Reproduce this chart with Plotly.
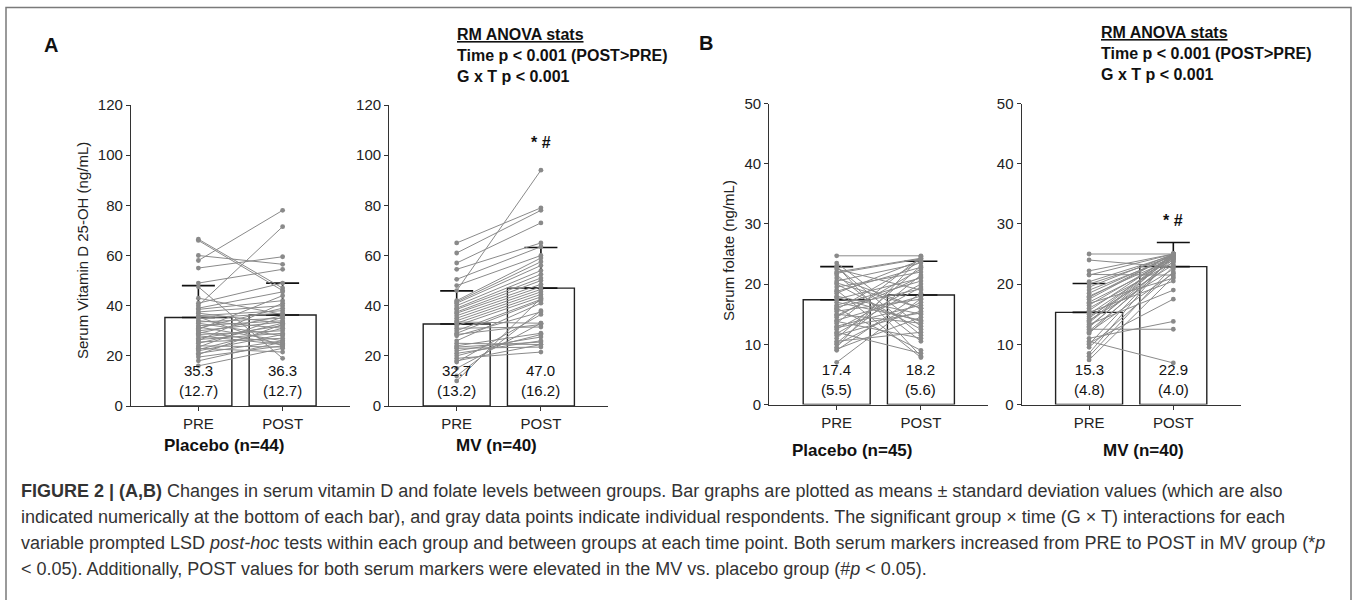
import plotly.graph_objects as go

W, H = 1357, 600

# ---------------- data ----------------
categories = ["PRE", "POST"]

vitd_placebo_means = [35.3, 36.3]
vitd_placebo_sds = [12.7, 12.7]
vitd_mv_means = [32.7, 47.0]
vitd_mv_sds = [13.2, 16.2]

fol_placebo_means = [17.4, 18.2]
fol_placebo_sds = [5.5, 5.6]
fol_mv_means = [15.3, 22.9]
fol_mv_sds = [4.8, 4.0]

vitd_placebo_pre = [66.5, 66, 60, 58, 55, 49, 47.5, 41, 40, 39, 38.5, 37.5, 37, 36, 35.5, 35, 34,
                    33.5, 33, 32, 31.5, 31, 30, 29.5, 29, 28.5, 28, 27, 26.5, 26, 25.5, 25, 24,
                    23.5, 23, 22.5, 22, 21, 20.5, 19.5, 18, 16, 43, 30.5]
vitd_placebo_post = [47, 46, 56.5, 78, 59.5, 54.5, 19, 49, 71.5, 45.5, 42, 40, 33, 38, 24, 37, 31,
                     35, 28, 34, 26, 39, 33.5, 25, 36, 30, 24.5, 32, 29, 41, 27, 33, 23.5,
                     35.5, 21.5, 31, 28.5, 26, 32.5, 24, 25.5, 23, 36.5, 44]

vitd_mv_pre = [65, 61, 57, 54.5, 50.5, 48, 46, 42, 41.5, 41, 40, 39, 38.5, 37.5, 37, 36, 35, 34,
               33.5, 33, 32, 31, 30, 29, 28.5, 28, 26, 25, 24, 23.5, 23, 22, 21, 20, 19, 18,
               17.5, 15, 12, 10]
vitd_mv_post = [79, 78, 73, 65, 63.5, 60, 94, 59, 57.5, 56, 54, 52.5, 51, 50, 48.5, 47.5, 46.5,
                45.5, 33, 44.5, 43.5, 31.5, 42.5, 42, 32.5, 37.5, 41, 24.5, 29, 25.5, 23.5, 27.5,
                26, 28.5, 21.5, 24.5, 36.5, 33, 38, 43]

fol_placebo_pre = [24.7, 23.5, 23, 22.5, 22, 21.5, 21, 20.5, 20, 19.5, 19, 18.5, 18, 17.5, 17,
                   16.5, 16, 15.8, 15.5, 15, 14.5, 14, 13.8, 13.5, 13, 12.5, 12, 11.8, 11.5, 11,
                   10.5, 10.2, 10, 9.5, 9.2, 9, 22.8, 21.8, 20.2, 18.8, 17.8, 16.2, 14.8, 12.8, 7]
fol_placebo_post = [24.7, 13, 8, 19, 24.3, 10.5, 16, 23.5, 12.5, 22, 7.8, 24, 15, 21, 14, 20.5,
                    9, 23.8, 17.5, 13.5, 22.5, 18, 11, 24.5, 16.5, 20, 8.5, 19.5, 15.5, 23, 12,
                    21.5, 17, 24.6, 14.5, 18.5, 11.5, 24.2, 16, 22.8, 13.8, 19.2, 21.2, 15.2, 17.6]

fol_mv_pre = [25, 24, 22.2, 21.6, 21.5, 20.4, 20, 19.5, 19, 18.5, 18, 17.5, 17, 16.8, 16.5, 16,
              15.6, 15.3, 15, 14.6, 14.3, 14, 13.6, 13.3, 13, 12.8, 12.5, 12.2, 12, 11.8, 11,
              10.5, 10.2, 10, 9.5, 8.5, 8, 7.4, 13.8, 17.8]
fol_mv_post = [25, 22.8, 25, 21.5, 25, 24.8, 24.6, 25, 24.4, 24.8, 24.2, 25, 24, 21, 24.6, 23.6,
               24.9, 20.5, 24.3, 23.2, 25, 22.5, 24.7, 19, 24.1, 25, 12.5, 23.8, 21.8, 24.5,
               13.8, 6.9, 17.5, 24.8, 22, 25, 23, 21.2, 25, 25]

group_labels = ["Placebo (n=44)", "MV (n=40)", "Placebo (n=45)", "MV (n=40)"]
ytitles = ["Serum Vitamin D 25-OH (ng/mL)", "Serum folate (ng/mL)"]

panels = [
    (vitd_placebo_means, vitd_placebo_sds, vitd_placebo_pre, vitd_placebo_post),
    (vitd_mv_means, vitd_mv_sds, vitd_mv_pre, vitd_mv_post),
    (fol_placebo_means, fol_placebo_sds, fol_placebo_pre, fol_placebo_post),
    (fol_mv_means, fol_mv_sds, fol_mv_pre, fol_mv_post),
]

# ---------------- layout geometry (pixels) ----------------
x_px = [(131, 350), (389.3, 608.3), (769.3, 988.3), (1021.7, 1240.7)]
y_px = [(105, 406), (105, 406), (103.5, 404.5), (103.5, 404.5)]
y_ranges = [[0, 120], [0, 120], [0, 50], [0, 50]]
y_dticks = [20, 20, 10, 10]

FONT = "Liberation Sans, Arial, Helvetica, sans-serif"
GRAY = "#8a8a8a"
AX = "#333333"

fig = go.Figure()
layout = dict(
    width=W, height=H, margin=dict(l=0, r=0, t=0, b=0),
    paper_bgcolor="white", plot_bgcolor="white", showlegend=False,
    font=dict(family=FONT, color="#222222"),
)

annotations = []
for i, (means, sds, pre, post) in enumerate(panels):
    k = "" if i == 0 else str(i + 1)
    xa, ya = "x" + k, "y" + k
    fig.add_trace(go.Bar(
        x=[0, 1], y=means, width=0.795, xaxis=xa, yaxis=ya,
        marker=dict(color="white", line=dict(color="#222222", width=1.4)),
        error_y=dict(type="data", array=sds, arrayminus=[0, 0], symmetric=False,
                     color="#111111", thickness=1.6, width=16.5),
        hoverinfo="skip",
    ))
    lx, ly = [], []
    for a, b in zip(pre, post):
        lx += [0, 1, None]
        ly += [a, b, None]
    fig.add_trace(go.Scatter(
        x=lx, y=ly, mode="lines+markers", xaxis=xa, yaxis=ya,
        line=dict(color=GRAY, width=1), marker=dict(color=GRAY, size=4.8),
        hoverinfo="skip",
    ))
    layout["xaxis" + k] = dict(
        domain=[x_px[i][0] / W, x_px[i][1] / W], range=[-0.8, 1.8], anchor=ya,
        tickvals=[0, 1], ticktext=categories, showline=True, linecolor=AX, linewidth=1.3,
        ticks="outside", ticklen=4, tickcolor=AX, tickwidth=1.2, showgrid=False,
        zeroline=False, tickfont=dict(size=15, color="#222222", family=FONT), fixedrange=True,
        automargin=False,
    )
    layout["yaxis" + k] = dict(
        domain=[1 - y_px[i][1] / H, 1 - y_px[i][0] / H], range=y_ranges[i], anchor=xa,
        dtick=y_dticks[i], showline=True, linecolor=AX, linewidth=1.3, ticks="outside",
        ticklen=4, tickcolor=AX, tickwidth=1.2, showgrid=False, zeroline=False,
        tickfont=dict(size=15, color="#222222", family=FONT), fixedrange=True,
        automargin=False,
    )
    for c in range(2):
        annotations.append(dict(
            x=c, y=0, xref=xa, yref=ya, xanchor="center", yanchor="bottom", yshift=5,
            showarrow=False, text=f"{means[c]:.1f}<br>({sds[c]:.1f})",
            font=dict(size=15, color="#111111"),
        ))

# significance markers
annotations.append(dict(x=1, y=105.2, xref="x2", yref="y2", text="<b>* #</b>", showarrow=False,
                        xanchor="center", yanchor="middle", font=dict(size=16, color="#111111")))
annotations.append(dict(x=1, y=30.6, xref="x4", yref="y4", text="<b>* #</b>", showarrow=False,
                        xanchor="center", yanchor="middle", font=dict(size=16, color="#111111")))


def pa(x, y, text, size=15, xanchor="center", yanchor="middle", **kw):
    d = dict(x=x / W, y=1 - y / H, xref="paper", yref="paper", text=text, showarrow=False,
             xanchor=xanchor, yanchor=yanchor,
             font=dict(size=size, color=kw.pop("color", "#111111"), family=FONT))
    d.update(kw)
    annotations.append(d)


# y titles
pa(82, 251, ytitles[0], size=15, textangle=-90, color="#222222")
pa(728, 251, ytitles[1], size=15, textangle=-90, color="#222222")

# group labels
pa(224, 445, f"<b>{group_labels[0]}</b>", size=17)
pa(496, 445, f"<b>{group_labels[1]}</b>", size=17)
pa(852, 450, f"<b>{group_labels[2]}</b>", size=17)
pa(1143, 450, f"<b>{group_labels[3]}</b>", size=17)

# panel letters
pa(51, 45, "<b>A</b>", size=20)
pa(706, 43, "<b>B</b>", size=20)

# RM ANOVA stats blocks
stats_text = "<b><u>RM ANOVA stats</u></b><br><b>Time p &lt; 0.001 (POST&gt;PRE)</b><br><b>G x T p &lt; 0.001</b>"
pa(455, 55, stats_text, size=16, xanchor="left", align="left")
pa(1099, 53, stats_text, size=16, xanchor="left", align="left")

# caption
caption_lines = [
    "<b>FIGURE 2 | (A,B)</b> Changes in serum vitamin D and folate levels between groups. Bar graphs are plotted as means ± standard deviation values (which are also",
    "indicated numerically at the bottom of each bar), and gray data points indicate individual respondents. The significant group × time (G × T) interactions for each",
    "variable prompted LSD <i>post-hoc</i> tests within each group and between groups at each time point. Both serum markers increased from PRE to POST in MV group (*<i>p</i>",
    "&lt; 0.05). Additionally, POST values for both serum markers were elevated in the MV vs. placebo group (#<i>p</i> &lt; 0.05).",
]
for j, line in enumerate(caption_lines):
    pa(19, 491 + 26 * j, line, size=18, xanchor="left", align="left", color="#333333")

layout["annotations"] = annotations
layout["shapes"] = [
    dict(type="rect", xref="paper", yref="paper", x0=6 / W, x1=1351 / W, y0=1 - 620 / H,
         y1=1 - 7.5 / H, line=dict(color="#7a7a7a", width=1.5), fillcolor="rgba(0,0,0,0)"),
]
fig.update_layout(**layout)
fig.write_html(
    "out.html",
    config={"displayModeBar": False},
    post_script="document.body.style.margin='0px';document.body.style.overflow='hidden';",
)
